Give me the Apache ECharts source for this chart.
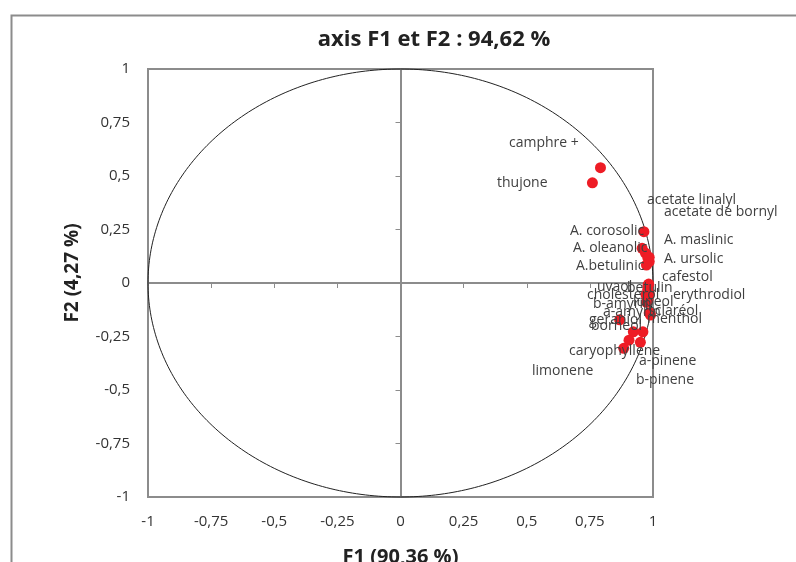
<!DOCTYPE html>
<html><head><meta charset="utf-8">
<script src="https://cdn.jsdelivr.net/npm/echarts@6/dist/echarts.min.js"></script>
<style>html,body{margin:0;padding:0;background:#fff;overflow:hidden}#c{width:796px;height:562px}</style>
</head><body><div id="c"></div>
<script>
// ---- data ----
var names = ["camphre +","thujone","acetate linalyl","acetate de bornyl","A. corosolic","A. oleanolic","A. maslinic","A. ursolic","A.betulinic","cafestol","uvaol","betulin","cholesterol","erythrodiol","lupeol","b-amyrin","a-amyrin","sclaréol","geraniol","menthol","borneol","caryophyllene","a-pinene","limonene","b-pinene"];
var f1 = [0.792,0.760,0.970,0.985,0.964,0.957,0.980,0.985,0.974,0.983,0.980,0.979,0.972,0.985,0.980,0.975,0.985,0.988,0.868,0.990,0.922,0.884,0.960,0.905,0.950];
var f2 = [0.539,0.468,0.140,0.100,0.240,0.162,0.116,0.120,0.084,-0.005,-0.010,-0.030,-0.055,-0.050,-0.075,-0.090,-0.140,-0.140,-0.172,-0.150,-0.228,-0.305,-0.228,-0.267,-0.277];
var tickLabels = {"-1":"-1","-0.75":"-0,75","-0.5":"-0,5","-0.25":"-0,25","0":"0","0.25":"0,25","0.5":"0,5","0.75":"0,75","1":"1"};
var titleText = "axis F1 et F2 : 94,62 %";
var xName = "F1 (90,36 %)";
var yName = "F2 (4,27 %)";

// ---- label layout (left edge x, centre y of each label, in pixels) ----
var labelAt = [[509,143],[497,183],[647,200],[664,212],[570,231],[573,248],[664,240],[664,259],[576,266],[662,277],[597,287],[627,288],[587,295],[673,295],[633,302],[593,304],[603,312],[648,311],[589,320],[647,319],[591,326],[569,351],[639,361],[532,371],[636,380]];

var FONT = "'Open Sans', 'Liberation Sans', sans-serif";
var chart = echarts.init(document.getElementById('c'), null, {renderer:'canvas'});
function fmt(v){ var k = String(Math.round(v*100)/100); return tickLabels[k] !== undefined ? tickLabels[k] : k; }

var pts = names.map(function(n,i){ return {name:n, value:[f1[i], f2[i]]}; });

var option = {
  animation:false,
  backgroundColor:'#fff',
  title:{text:titleText,left:429,top:24,textAlign:'center',textStyle:{fontFamily:FONT,fontWeight:'bold',fontSize:22,color:'#222'}},
  grid:{left:148,right:143,top:69,bottom:65,containLabel:false,outerBoundsMode:'none',show:true,borderColor:'#8c8c8c',borderWidth:2,backgroundColor:'transparent'},
  xAxis:[
    {type:'value',min:-1,max:1,interval:0.25,position:'bottom',
     axisLine:{show:false},axisTick:{show:false},splitLine:{show:false},
     axisLabel:{formatter:fmt,margin:17,fontFamily:FONT,fontSize:15,color:'#333'},
     name:xName,nameLocation:'middle',nameGap:50,nameTextStyle:{fontFamily:FONT,fontWeight:'bold',fontSize:20,color:'#222'}},
    {type:'value',min:-1,max:1,interval:0.25,position:'bottom',
     axisLine:{onZero:true,onZeroAxisIndex:1,lineStyle:{color:'#8c8c8c',width:2}},
     axisTick:{inside:false,length:5,lineStyle:{color:'#8c8c8c',width:1}},
     axisLabel:{show:false},splitLine:{show:false}}
  ],
  yAxis:[
    {type:'value',min:-1,max:1,interval:0.25,position:'left',
     axisLine:{show:false},axisTick:{show:false},splitLine:{show:false},
     axisLabel:{formatter:fmt,margin:18,fontFamily:FONT,fontSize:15,color:'#333'},
     name:yName,nameLocation:'middle',nameGap:66,nameRotate:90,nameTextStyle:{fontFamily:FONT,fontWeight:'bold',fontSize:19,color:'#222',padding:[0,0,0,20]}},
    {type:'value',min:-1,max:1,interval:0.25,position:'left',
     axisLine:{onZero:true,onZeroAxisIndex:1,lineStyle:{color:'#8c8c8c',width:2}},
     axisTick:{inside:false,length:5,lineStyle:{color:'#8c8c8c',width:1}},
     axisLabel:{show:false},splitLine:{show:false}}
  ],
  graphic:[{type:'rect',left:9,top:13,shape:{width:820,height:600},style:{fill:'none',stroke:'#8c8c8c',lineWidth:2},z:-1,silent:true}],
  series:[
    {type:'custom',xAxisIndex:0,yAxisIndex:0,data:[[0,0]],silent:true,z:1,
     renderItem:function(params,api){
       var p=[]; var n=360;
       for(var k=0;k<=n;k++){ var t=2*Math.PI*k/n; p.push(api.coord([Math.cos(t),Math.sin(t)])); }
       return {type:'polyline',shape:{points:p},style:{fill:'none',stroke:'#222',lineWidth:1}};
     }},
    {type:'scatter',xAxisIndex:0,yAxisIndex:0,symbolSize:11,z:3,
     itemStyle:{color:'#ee1c25',opacity:1},
     data:pts,
     label:{show:true,position:'inside',align:'left',verticalAlign:'middle',fontFamily:FONT,fontSize:14,color:'#404040',
       formatter:function(p){return p.name;}},
     labelLayout:function(params){
       var la=labelAt[params.dataIndex];
       return {x:la[0], y:la[1], align:'left', verticalAlign:'middle'};
     }}
  ]
};
chart.setOption(option);
</script></body></html>
